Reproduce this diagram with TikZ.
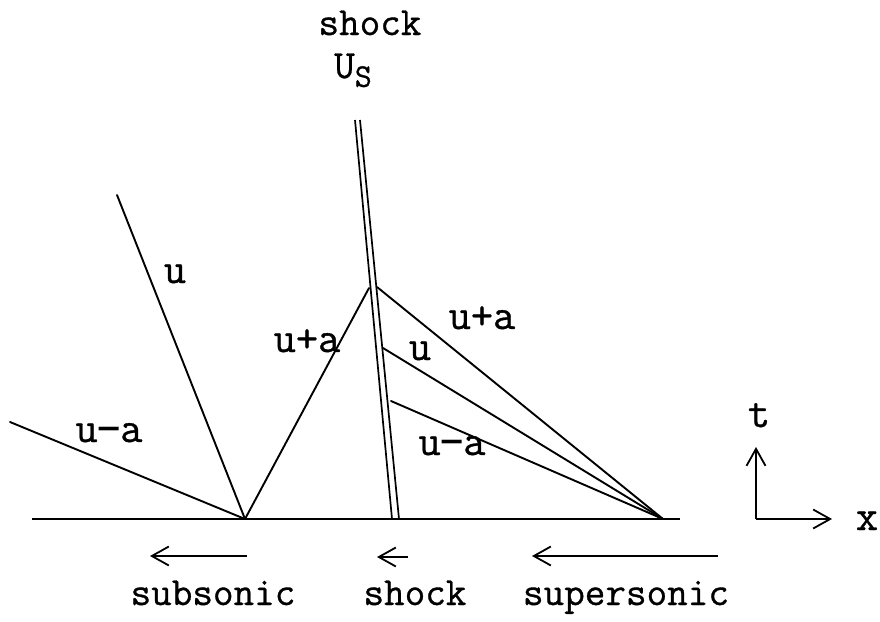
\documentclass[tikz,border=0pt]{standalone}
\usepackage{fontspec}
\setmonofont{Latin Modern Mono}[FakeBold=0.8]
\newfontfamily\dvmono{DejaVu Sans Mono}
\usetikzlibrary{arrows.meta}
\newcommand{\mminus}{\makebox[0.525em]{\scalebox{0.9}[1]{\dvmono −}}}
\tikzset{
  wave/.style={line width=1.9pt, line cap=round},
  base/.style={line width=1.9pt},
  shockline/.style={line width=1.7pt},
  barb/.style={line width=1.8pt, -{Straight Barb[length=17pt,width=19pt,line width=1.8pt]}},
  lab/.style={font=\ttfamily\fontsize{43}{45}\selectfont, inner sep=0pt, anchor=base},
  txt/.style={font=\ttfamily\fontsize{40}{42}\selectfont, inner sep=0pt, anchor=base}
}
\begin{document}
\begin{tikzpicture}[x=1pt,y=-1pt]
\useasboundingbox (0,0) rectangle (880,621);
% points
\coordinate (L0) at (32,519);
\coordinate (R0) at (680,519);
\coordinate (O1) at (245,519);
\coordinate (O2) at (663,519);
\coordinate (LA) at (10,422);
\coordinate (LU) at (117,195);
\coordinate (LP) at (369,288);
\coordinate (SAt) at (355,120);
\coordinate (SAb) at (392,519);
\coordinate (SBt) at (360,120);
\coordinate (SBb) at (399,519);
\coordinate (RP) at (377,287);
\coordinate (RU) at (383,348);
\coordinate (RM) at (391,401);
% base line
\draw[base] (L0) -- (R0);
% shock double line
\draw[shockline] (SAt) -- (SAb);
\draw[shockline] (SBt) -- (SBb);
% left fan
\draw[wave] (LA) -- (O1);
\draw[wave] (LU) -- (O1);
\draw[wave] (O1) -- (LP);
% right fan
\draw[wave] (RP) -- (O2);
\draw[wave] (RU) -- (O2);
\draw[wave] (RM) -- (O2);
% labels
\node[txt] (sh) at (370,35) {shock};
\node[txt] (us) at (353,78) {U\raisebox{-0.22em}{\fontsize{33}{35}\selectfont S}};
\node[lab] (lu) at (175,283) {u};
\node[lab] (lua) at (307,352) {u+a};
\node[lab] (lum) at (109,442) {u\mminus a};
\node[lab] (rua) at (482,329) {u+a};
\node[lab] (ru) at (420,360) {u};
\node[lab] (rum) at (452,455) {u\mminus a};
% axes
\coordinate (AO) at (756,519);
\coordinate (AT) at (756,447);
\coordinate (AX) at (832,519);
\draw[barb] (AO) -- (AT);
\draw[barb] (AO) -- (AX);
\node[lab] (tl) at (759,427) {t};
\node[lab] (xl) at (867,530) {x};
% bottom arrows
\coordinate (a1s) at (247,556); \coordinate (a1e) at (150,556);
\coordinate (a2s) at (408,557); \coordinate (a2e) at (377,557);
\coordinate (a3s) at (718,556); \coordinate (a3e) at (532,556);
\draw[barb] (a1s) -- (a1e);
\draw[barb] (a2s) -- (a2e);
\draw[barb] (a3s) -- (a3e);
\node[txt] (sub) at (213,605) {subsonic};
\node[txt] (shk) at (415,605) {shock};
\node[txt] (sup) at (626,605) {supersonic};
\end{tikzpicture}
\end{document}
